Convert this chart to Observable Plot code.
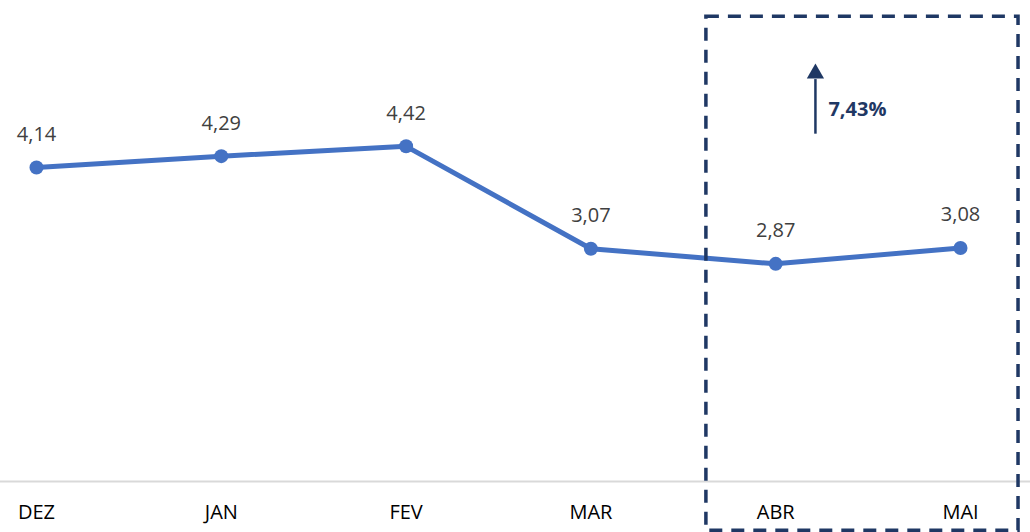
<!DOCTYPE html>
<html>
<head>
<meta charset="utf-8">
<script src="https://cdn.jsdelivr.net/npm/d3@7"></script>
<script src="https://cdn.jsdelivr.net/npm/@observablehq/plot@0.6"></script>
<style>
  html, body { margin: 0; padding: 0; background: #fff; }
  #chart svg { display: block; }
</style>
</head>
<body>
<div id="chart"></div>
<script>
const months = ["DEZ", "JAN", "FEV", "MAR", "ABR", "MAI"];
const values = [4.14, 4.29, 4.42, 3.07, 2.87, 3.08];
const changeLabel = ["7,43%"];

const data = months.map((m, i) => ({ i, month: m, value: values[i] }));
const fmt = v => v.toFixed(2).replace(".", ",");

// highlight box around ABR..MAI (in index / value units)
const boxX = [3.625, 5.314];
const boxY = [-0.65, 6.13];
const arrowX = [4.215];
const arrowY = [4.58, 5.30];
const arrowHeadY = [5.38];

const font = "'Open Sans', 'Noto Sans', sans-serif";

const chart = Plot.plot({
  width: 1030,
  height: 532,
  marginLeft: 36,
  marginRight: 70,
  marginTop: 26,
  marginBottom: 51,
  style: { fontFamily: font, background: "#fff", overflow: "visible" },
  x: { domain: [0, 5], axis: null },
  y: { domain: [0, 6], axis: null },
  marks: [
    Plot.ruleY([0], { stroke: "#d9d9d9", strokeWidth: 2, x1: -0.2, x2: 5.6, clip: false }),
    Plot.text(data, {
      x: "i", y: 0, text: "month", dy: 31,
      fontSize: 20, fill: "#000", fontFamily: font
    }),
    Plot.line(data, { x: "i", y: "value", stroke: "#4472C4", strokeWidth: 5, strokeLinejoin: "round" }),
    Plot.dot(data, { x: "i", y: "value", r: 7, fill: "#4472C4", stroke: "none" }),
    Plot.text(data, {
      x: "i", y: "value", text: d => fmt(d.value), dy: -33,
      fontSize: 20, fill: "#404040", fontFamily: font, letterSpacing: "0.6px"
    }),
    Plot.rect([{}], {
      x1: () => boxX[0], x2: () => boxX[1], y1: () => boxY[0], y2: () => boxY[1],
      fill: "none", stroke: "#1F3864", strokeWidth: 3.5, strokeDasharray: "13,9", clip: false
    }),
    Plot.ruleX(arrowX, { y1: arrowY[0], y2: arrowY[1], stroke: "#1F3864", strokeWidth: 2.5 }),
    Plot.dot(arrowX, { x: d => d, y: () => arrowHeadY[0], symbol: "triangle", r: 6.4, fill: "#1F3864", stroke: "none" }),
    Plot.text(changeLabel, {
      x: () => arrowX[0], y: () => 4.9, text: d => d, dx: 13, textAnchor: "start",
      fontSize: 20, fontWeight: "bold", fill: "#1F3864", fontFamily: font
    })
  ]
});
document.getElementById("chart").appendChild(chart);
</script>
</body>
</html>
